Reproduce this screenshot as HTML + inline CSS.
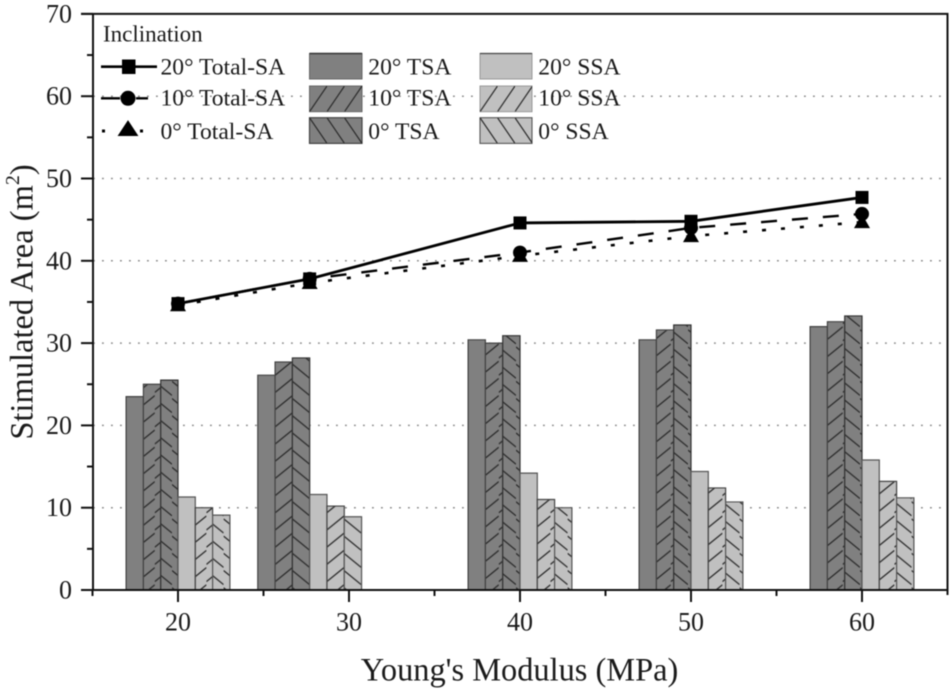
<!DOCTYPE html>
<html lang="en">
<head>
<meta charset="utf-8">
<title>Stimulated Area vs Young's Modulus</title>
<style>
html,body{margin:0;padding:0;background:#fff;width:952px;height:692px;overflow:hidden}
svg{display:block;filter:blur(0.45px)}
text{font-family:"Liberation Serif",serif;fill:#1a1a1a}
</style>
</head>
<body>
<svg id="chart" xmlns="http://www.w3.org/2000/svg" width="952" height="692" viewBox="0 0 952 692">
<defs>
<pattern id="h10" patternUnits="userSpaceOnUse" width="17.2" height="17.2">
<path d="M0 14L17.2 0M0 31.2L17.2 17.2M0 -3.2L17.2 -17.2" stroke="#2b2b2b" stroke-width="1.3" fill="none"/>
</pattern>
<pattern id="h0" patternUnits="userSpaceOnUse" width="17.2" height="17.2">
<path d="M0 3L17.2 17M0 -14.2L17.2 -0.2M0 20.2L17.2 34.2" stroke="#2b2b2b" stroke-width="1.3" fill="none"/>
</pattern>
<pattern id="lg10a" patternUnits="userSpaceOnUse" width="17.5" height="25.7" x="309.5" y="86">
<path d="M0 25.7L17.5 0" stroke="#2b2b2b" stroke-width="1.2" fill="none"/>
</pattern>
<pattern id="lg10b" patternUnits="userSpaceOnUse" width="17.5" height="25.7" x="480" y="86">
<path d="M0 25.7L17.5 0" stroke="#2b2b2b" stroke-width="1.2" fill="none"/>
</pattern>
<pattern id="lg0a" patternUnits="userSpaceOnUse" width="17.5" height="25.7" x="309.5" y="117.7">
<path d="M0 0L17.5 25.7" stroke="#2b2b2b" stroke-width="1.2" fill="none"/>
</pattern>
<pattern id="lg0b" patternUnits="userSpaceOnUse" width="17.5" height="25.7" x="480" y="117.7">
<path d="M0 0L17.5 25.7" stroke="#2b2b2b" stroke-width="1.2" fill="none"/>
</pattern>
</defs>
<g id="grid"></g>
<g id="bars"></g>
<g id="axes"></g>
<g id="lines"></g>
<text transform="translate(32.5,302) rotate(-90)" text-anchor="middle" font-size="32.5">Stimulated Area (m<tspan font-size="20" dy="-13.5">2</tspan><tspan dy="13.5">)</tspan></text>
<text x="519.5" y="680.5" text-anchor="middle" font-size="32.4">Young's Modulus (MPa)</text>
<g id="legend">
<text x="103" y="41.5" font-size="23">Inclination</text>

<g>
<path d="M101 66.7H157" stroke="#000" stroke-width="2.6"/>
<rect x="122" y="59.5" width="13.5" height="14.5" fill="#000"/>
<text x="160.5" y="74.5" font-size="23.6">20° Total-SA</text>
</g>
<g>
<path d="M101 98.3H120M136 98.3H148" stroke="#000" stroke-width="2.4"/>
<circle cx="128" cy="98.3" r="7.5" fill="#000"/>
<text x="160.5" y="105.5" font-size="23.6">10° Total-SA</text>
</g>
<g>
<path d="M102 131h3M140 131h3" stroke="#000" stroke-width="3"/>
<path d="M128 121L137.5 135.5H118.5Z" fill="#000" stroke="#000" stroke-width="1"/>
<text x="160.5" y="139" font-size="23.6">0° Total-SA</text>
</g>

<g>
<rect x="309.5" y="53.5" width="52.5" height="25.5" fill="#808080" stroke="#666" stroke-width="1"/><path d="M309.5 53.5H362" stroke="#333" stroke-width="1.4"/>
<text x="368.3" y="74.5" font-size="23.6">20° TSA</text>
</g>
<g>
<rect x="309.5" y="86" width="52.5" height="25.7" fill="#808080" stroke="#666" stroke-width="1"/>
<rect x="309.5" y="86" width="52.5" height="25.7" fill="url(#lg10a)"/>
<text x="368.3" y="105.5" font-size="23.6">10° TSA</text>
</g>
<g>
<rect x="309.5" y="117.7" width="52.5" height="25.7" fill="#808080" stroke="#444" stroke-width="1.2"/>
<rect x="309.5" y="117.7" width="52.5" height="25.7" fill="url(#lg0a)"/>
<text x="368.3" y="139" font-size="23.6">0° TSA</text>
</g>

<g>
<rect x="480" y="53.5" width="52" height="25.5" fill="#c0c0c0" stroke="#999" stroke-width="1"/><path d="M480 53.5H532" stroke="#444" stroke-width="1.2"/>
<text x="538.3" y="74.5" font-size="23.6">20° SSA</text>
</g>
<g>
<rect x="480" y="86" width="52" height="25.7" fill="#c0c0c0" stroke="#999" stroke-width="1"/>
<rect x="480" y="86" width="52" height="25.7" fill="url(#lg10b)"/>
<text x="538.3" y="105.5" font-size="23.6">10° SSA</text>
</g>
<g>
<rect x="480" y="117.7" width="52" height="25.7" fill="#c0c0c0" stroke="#555" stroke-width="1.1"/>
<rect x="480" y="117.7" width="52" height="25.7" fill="url(#lg0b)"/>
<text x="538.3" y="139" font-size="23.6">0° SSA</text>
</g>
</g>
</svg>
<script>
const xTickLabels = [20, 30, 40, 50, 60];
const yTickLabels = [0, 10, 20, 30, 40, 50, 60, 70];
// x position of each measured group (the second group sits left of its tick in the source figure)
const groupModulus = [20, 27.7, 40, 50, 60];
const tsa20 = [23.5, 26.1, 30.4, 30.4, 32.0];
const tsa10 = [25.0, 27.7, 30.0, 31.6, 32.6];
const tsa0 = [25.5, 28.2, 30.9, 32.2, 33.3];
const ssa20 = [11.3, 11.6, 14.2, 14.4, 15.8];
const ssa10 = [10.0, 10.2, 11.0, 12.4, 13.2];
const ssa0 = [9.1, 8.9, 10.0, 10.7, 11.2];
const total20 = [34.8, 37.8, 44.6, 44.8, 47.7];
const total10 = [34.8, 37.8, 41.0, 44.0, 45.7];
const total0 = [34.6, 37.3, 40.6, 43.0, 44.7];

const NS = 'http://www.w3.org/2000/svg';
const X0 = 178, XK = 17.1, Y0 = 590, YK = 8.23;
const LEFT = 93, RIGHT = 947.5, BAR_W = 17.3;
const xScale = v => X0 + (v - 20) * XK;
const yScale = v => Y0 - v * YK;
function make(tag, parent, attrs, text) {
  const el = document.createElementNS(NS, tag);
  for (const k in attrs) el.setAttribute(k, attrs[k]);
  if (text !== undefined) el.textContent = text;
  parent.appendChild(el);
  return el;
}
const grid = document.getElementById('grid');
const axes = document.getElementById('axes');
const barsG = document.getElementById('bars');
const linesG = document.getElementById('lines');

yTickLabels.slice(1, -1).forEach(v => {
  const g = make('line', grid, {x1: LEFT, x2: RIGHT, y1: yScale(v), y2: yScale(v), stroke: '#8c8c8c', 'stroke-width': 1.5, 'stroke-dasharray': '1.8 7.2'});
  
  
});

const barSeries = [
  {name: 'tsa-20', values: tsa20, fill: '#808080', hatch: null, stroke: '#444'},
  {name: 'tsa-10', values: tsa10, fill: '#808080', hatch: 'h10', stroke: '#444'},
  {name: 'tsa-0', values: tsa0, fill: '#808080', hatch: 'h0', stroke: '#333'},
  {name: 'ssa-20', values: ssa20, fill: '#c0c0c0', hatch: null, stroke: '#555'},
  {name: 'ssa-10', values: ssa10, fill: '#c0c0c0', hatch: 'h10', stroke: '#444'},
  {name: 'ssa-0', values: ssa0, fill: '#c0c0c0', hatch: 'h0', stroke: '#555'}
];
barSeries.forEach((s, si) => {
  s.values.forEach((v, i) => {
    const x = xScale(groupModulus[i]) + (si - 3) * BAR_W;
    const y = yScale(v);
    const h = Y0 - y;
    const r = make('rect', barsG, {x: x, y: y, width: BAR_W, height: h, fill: s.fill});
    
    
    if (s.hatch) {
      const hr = make('rect', barsG, {x: x, y: y, width: BAR_W, height: h, fill: 'url(#' + s.hatch + ')'});
      
      
    }
    const e = make('path', barsG, {d: 'M' + x + ' ' + Y0 + 'V' + y + 'H' + (x + BAR_W) + 'V' + Y0, fill: 'none', stroke: s.stroke, 'stroke-width': 1.2});
    
    
  });
});

const frame = make('path', axes, {d: 'M81 ' + yScale(70) + 'H' + RIGHT + 'V595M' + LEFT + ' ' + yScale(70) + 'V' + Y0 + 'H' + RIGHT, fill: 'none', stroke: '#111', 'stroke-width': 2});



yTickLabels.forEach((v, i) => {
  const y = yScale(v);
  const t = make('line', axes, {x1: 81, x2: LEFT, y1: y, y2: y, stroke: '#111', 'stroke-width': 2});
  
  
  const l = make('text', axes, {x: 72, y: y + 8.5, 'text-anchor': 'end', 'font-size': 26}, String(v));
  
  
  if (i < yTickLabels.length - 1) {
    const my = yScale(v + 5);
    const m = make('line', axes, {x1: 87, x2: LEFT, y1: my, y2: my, stroke: '#111', 'stroke-width': 2});
    
    
  }
});
xTickLabels.forEach(v => {
  const x = xScale(v);
  const t = make('line', axes, {x1: x, x2: x, y1: Y0, y2: 602, stroke: '#111', 'stroke-width': 2});
  
  
  const l = make('text', axes, {x: x, y: 630.7, 'text-anchor': 'middle', 'font-size': 26}, String(v));
  
  
  const m = make('line', axes, {x1: x - 85.5, x2: x - 85.5, y1: Y0, y2: 596, stroke: '#111', 'stroke-width': 2});
  
  
});

const lineSeries = [
  {name: 'total-0', values: total0, dash: '4 15', width: 2.6, marker: 'triangle'},
  {name: 'total-10', values: total10, dash: '16 15', width: 2.4, marker: 'circle'},
  {name: 'total-20', values: total20, dash: '', width: 2.8, marker: 'square'}
];
lineSeries.forEach(s => {
  const pts = s.values.map((v, i) => xScale(groupModulus[i]) + ',' + yScale(v)).join(' ');
  const pl = make('polyline', linesG, {points: pts, fill: 'none', stroke: '#000', 'stroke-width': s.width, 'stroke-dasharray': s.dash});
  
  
  s.values.forEach((v, i) => {
    const x = xScale(groupModulus[i]), y = yScale(v);
    let m;
    if (s.marker === 'square') m = make('rect', linesG, {x: x - 6.5, y: y - 6.5, width: 13, height: 13, fill: '#000'});
    else if (s.marker === 'circle') m = make('circle', linesG, {cx: x, cy: y, r: 7, fill: '#000'});
    else m = make('path', linesG, {d: 'M' + x + ' ' + (y - 8) + 'L' + (x + 8) + ' ' + (y + 6) + 'H' + (x - 8) + 'Z', fill: '#000'});
    
    
  });
});
</script>
</body>
</html>
